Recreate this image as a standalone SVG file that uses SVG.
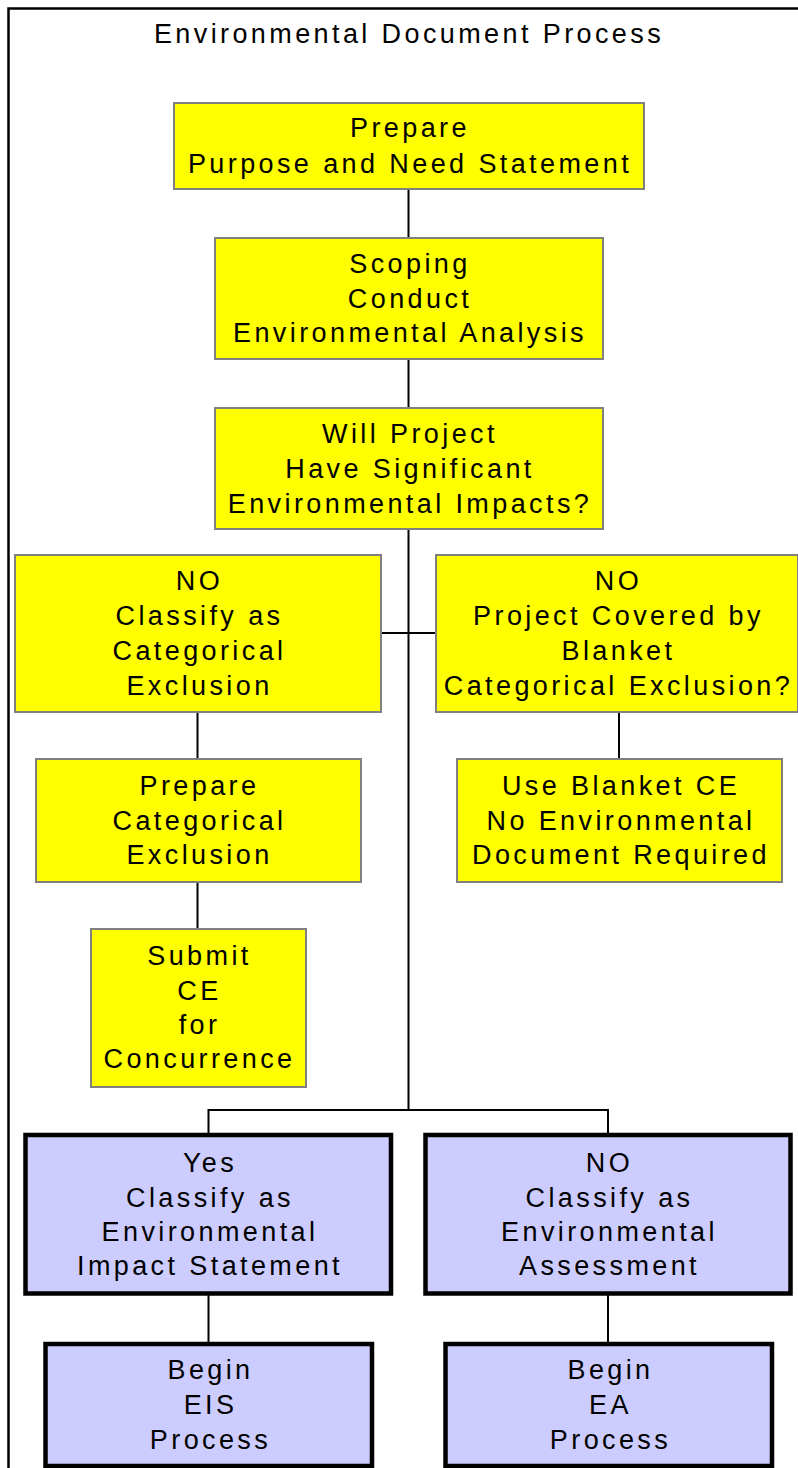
<svg xmlns="http://www.w3.org/2000/svg" width="798" height="1468" viewBox="0 0 798 1468">
<style>
.y{fill:#ffff00;stroke:#808080;stroke-width:2}
.p{fill:#ccccff;stroke:#000;stroke-width:4.5}
text{font-family:"Liberation Sans",Arial,sans-serif;font-size:27px;fill:#000;text-anchor:middle;letter-spacing:3.4px}
.c{stroke:#000;stroke-width:2;fill:none}
</style>
<rect width="798" height="1468" fill="#fff"/>
<path d="M8.5,1470 V8.5 H800" fill="none" stroke="#000" stroke-width="2.5"/>
<text x="409" y="43">Environmental Document Process</text>
<g id="connectors" class="c">
<path d="M408.5,189 V237"/>
<path d="M408.5,359 V407"/>
<path d="M408.5,529 V1110"/>
<path d="M381,633 H436"/>
<path d="M197.5,712 V759"/>
<path d="M197.5,882 V929"/>
<path d="M619,712 V759"/>
<path d="M208.5,1133 V1110 H608 V1133"/>
<path d="M208.5,1295 V1342"/>
<path d="M608,1295 V1342"/>
</g>
<g id="n1"><rect class="y" x="174" y="103" width="470" height="86"/>
<text x="410" y="137">Prepare</text><text x="410" y="172.5">Purpose and Need Statement</text></g>
<g id="n2"><rect class="y" x="215" y="238" width="388" height="121"/>
<text x="410" y="273">Scoping</text><text x="410" y="307.5">Conduct</text><text x="410" y="342">Environmental Analysis</text></g>
<g id="n3"><rect class="y" x="215" y="408" width="388" height="121"/>
<text x="410" y="443">Will Project</text><text x="410" y="478">Have Significant</text><text x="410" y="513">Environmental Impacts?</text></g>
<g id="n4"><rect class="y" x="15" y="555" width="366" height="157"/>
<text x="199.5" y="590">NO</text><text x="199.5" y="625">Classify as</text><text x="199.5" y="660">Categorical</text><text x="199.5" y="695">Exclusion</text></g>
<g id="n5"><rect class="y" x="436" y="555" width="362" height="157"/>
<text x="618.5" y="590">NO</text><text x="618.5" y="625">Project Covered by</text><text x="618.5" y="660">Blanket</text><text x="618.5" y="695">Categorical Exclusion?</text></g>
<g id="n6"><rect class="y" x="36" y="759" width="325" height="123"/>
<text x="199.5" y="795">Prepare</text><text x="199.5" y="830">Categorical</text><text x="199.5" y="864">Exclusion</text></g>
<g id="n7"><rect class="y" x="91" y="929" width="215" height="158"/>
<text x="199.5" y="965">Submit</text><text x="199.5" y="1000">CE</text><text x="199.5" y="1034">for</text><text x="199.5" y="1068">Concurrence</text></g>
<g id="n8"><rect class="y" x="457" y="759" width="325" height="123"/>
<text x="621" y="795">Use Blanket CE</text><text x="621" y="830">No Environmental</text><text x="621" y="864">Document Required</text></g>
<g id="n9"><rect class="p" x="25.5" y="1135" width="365.5" height="158.5"/>
<text x="210" y="1172">Yes</text><text x="210" y="1207">Classify as</text><text x="210" y="1241">Environmental</text><text x="210" y="1275">Impact Statement</text></g>
<g id="n10"><rect class="p" x="425.5" y="1135" width="365" height="158.5"/>
<text x="609.5" y="1172">NO</text><text x="609.5" y="1207">Classify as</text><text x="609.5" y="1241">Environmental</text><text x="609.5" y="1275">Assessment</text></g>
<g id="n11"><rect class="p" x="45.5" y="1344" width="326.5" height="122"/>
<text x="210.5" y="1379">Begin</text><text x="210.5" y="1414">EIS</text><text x="210.5" y="1449">Process</text></g>
<g id="n12"><rect class="p" x="445.5" y="1344" width="326.5" height="122"/>
<text x="610.5" y="1379">Begin</text><text x="610.5" y="1414">EA</text><text x="610.5" y="1449">Process</text></g>
</svg>
